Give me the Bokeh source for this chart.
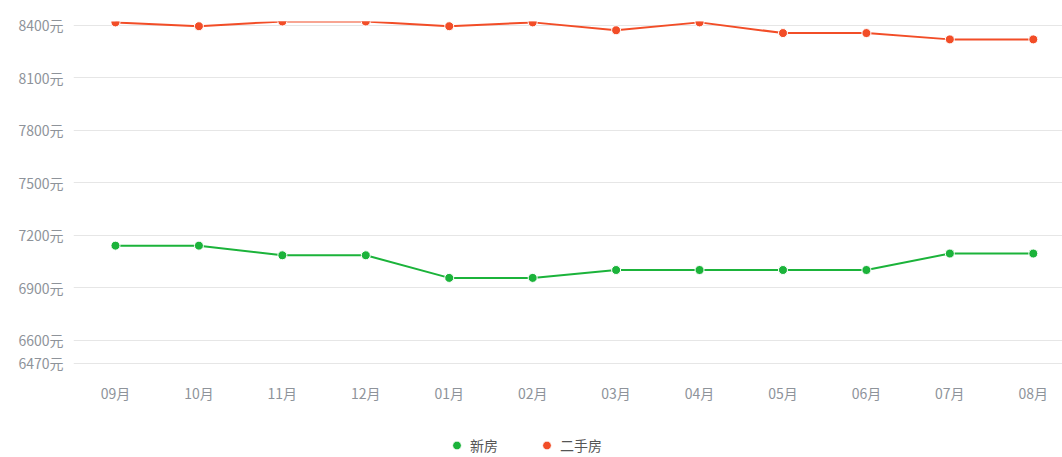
from bokeh.plotting import figure
from bokeh.models import Range1d, FixedTicker, Legend, LegendItem, ColumnDataSource
from bokeh.embed import file_html
from bokeh.resources import INLINE

months = ["09月", "10月", "11月", "12月", "01月", "02月", "03月", "04月", "05月", "06月", "07月", "08月"]
new_house = [7141, 7141, 7086, 7086, 6957, 6957, 7002, 7002, 7002, 7002, 7096, 7096]
second_hand = [8415, 8393, 8420, 8420, 8393, 8415, 8370, 8415, 8354, 8354, 8318, 8318]
y_ticks = [6470, 6600, 6900, 7200, 7500, 7800, 8100, 8400, 8420]
y_labels = ["6470元", "6600元", "6900元", "7200元", "7500元", "7800元", "8100元", "8400元", ""]
Y_MIN, Y_MAX = 6470, 8420

FONT = "Noto Sans CJK SC"
GREEN = "#1bb33a"
RED = "#f24d27"
GRID = "#e6e6e6"
LABEL = "#8e939a"

xs = list(range(len(months)))
src = ColumnDataSource(dict(x=xs, new=new_house, old=second_hand))

# frame spans to the bottom edge; the value axis bottom (6470) sits ~94px above it
px_per_unit = (362.7 - 20.8) / (Y_MAX - Y_MIN)
y_bottom = Y_MIN - (457 - 362.7) / px_per_unit

p = figure(width=1062, height=457, output_backend="svg", toolbar_location=None,
           x_range=Range1d(-0.503, 11.35), y_range=Range1d(y_bottom, Y_MAX),
           min_border_left=73, min_border_right=0, min_border_top=21, min_border_bottom=0)
p.outline_line_color = None
p.background_fill_color = "white"
p.border_fill_color = "white"

p.xaxis.ticker = FixedTicker(ticks=xs)
p.xaxis.major_label_overrides = {i: m for i, m in enumerate(months)}
p.xaxis.fixed_location = Y_MIN
p.yaxis.ticker = FixedTicker(ticks=y_ticks)
p.yaxis.major_label_overrides = {t: l for t, l in zip(y_ticks, y_labels)}
for ax in (p.xaxis[0], p.yaxis[0]):
    ax.axis_line_color = None
    ax.major_tick_line_color = None
    ax.minor_tick_line_color = None
    ax.major_tick_out = 0
    ax.major_tick_in = 0
    ax.major_label_text_color = LABEL
    ax.major_label_text_font = FONT
    ax.major_label_text_font_size = "14px"
p.xaxis.major_label_standoff = 20
p.yaxis.major_label_standoff = 10

p.xgrid.grid_line_color = None
p.ygrid.grid_line_color = GRID
p.ygrid.grid_line_width = 1

l1 = p.line("x", "new", source=src, color=GREEN, line_width=2)
c1 = p.scatter("x", "new", source=src, size=9, fill_color=GREEN, line_color="white", line_width=1)
l2 = p.line("x", "old", source=src, color=RED, line_width=2)
c2 = p.scatter("x", "old", source=src, size=9, fill_color=RED, line_color="white", line_width=1)

legend = Legend(items=[LegendItem(label="新房", renderers=[c1]),
                       LegendItem(label="二手房", renderers=[c2])],
                orientation="horizontal", location=(371, 1))
legend.margin = 0
legend.padding = 0
legend.spacing = 33
legend.glyph_width = 25
legend.glyph_height = 22
legend.label_width = 31
legend.label_height = 14
legend.label_standoff = 1
legend.label_text_font = FONT
legend.label_text_font_size = "14px"
legend.label_text_color = "#555555"
legend.border_line_color = None
legend.background_fill_alpha = 0
p.add_layout(legend)

open("out.html", "w").write(file_html(p, INLINE))
